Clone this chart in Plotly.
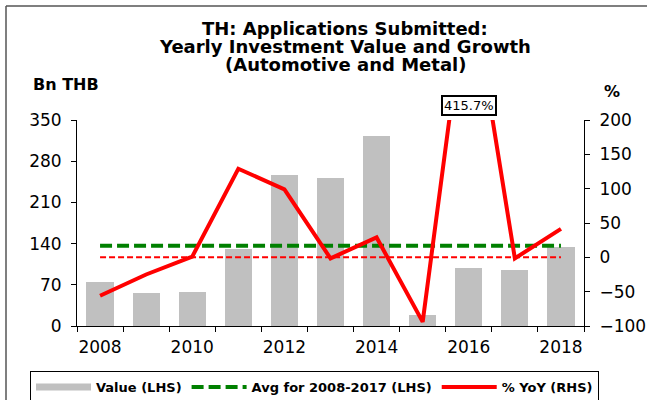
import plotly.graph_objects as go

# data
years = [2008, 2009, 2010, 2011, 2012, 2013, 2014, 2015, 2016, 2017, 2018]
value_bn_thb = [75, 56, 57, 130, 256, 252, 323, 19, 98, 96, 135]
yoy_pct = [-56, -25, 1, 129, 99, -1.5, 29, -94, 415.7, -1.5, 41.5]
avg_2008_2017 = 136.5
tick_years = [2008, 2010, 2012, 2014, 2016, 2018]

FONT = "DejaVu Sans, Arial, sans-serif"

fig = go.Figure()

fig.add_trace(go.Bar(
    x=years, y=value_bn_thb, width=0.59,
    marker=dict(color="#C0C0C0", line=dict(width=0)),
    name="Value (LHS)", showlegend=False,
))
# legend swatch for the bars (flat bar like the original)
fig.add_trace(go.Scatter(
    x=[None], y=[None], mode="lines",
    line=dict(color="#C0C0C0", width=7),
    name="Value (LHS)",
))
fig.add_trace(go.Scatter(
    x=years, y=[avg_2008_2017] * len(years), mode="lines",
    line=dict(color="#008000", width=4, dash="12px,5px"),
    name="Avg for 2008-2017 (LHS)",
))
fig.add_trace(go.Scatter(
    x=years, y=[0] * len(years), mode="lines", yaxis="y2",
    line=dict(color="#FF0000", width=2, dash="6px,3px"),
    showlegend=False, hoverinfo="skip",
))
fig.add_trace(go.Scatter(
    x=years, y=yoy_pct, mode="lines", yaxis="y2",
    line=dict(color="#FF0000", width=4),
    name="% YoY (RHS)",
))

# plot area runs from x=77 to 584 and y=120 to 326 (px)
def px(xp):
    return (xp - 77) / 507.0

def py(yp):
    return (326 - yp) / 206.0

title_lines = ["TH: Applications Submitted:",
               "Yearly Investment Value and Growth",
               "(Automotive and Metal)"]
annotations = []
for txt, yc in zip(title_lines, [28.5, 46.5, 64.5]):
    annotations.append(dict(
        text="<b>%s</b>" % txt, xref="paper", yref="paper",
        x=px(345), y=py(yc), xanchor="center", yanchor="middle",
        showarrow=False, font=dict(family=FONT, size=18, color="black"),
    ))
annotations.append(dict(
    text="<b>Bn THB</b>", xref="paper", yref="paper",
    x=px(66), y=py(84), xanchor="center", yanchor="middle",
    showarrow=False, font=dict(family=FONT, size=16, color="black"),
))
annotations.append(dict(
    text="<b>%</b>", xref="paper", yref="paper",
    x=px(612), y=py(91), xanchor="center", yanchor="middle",
    showarrow=False, font=dict(family=FONT, size=16, color="black"),
))
# label for the off-scale 2016 growth value
annotations.append(dict(
    text="%.1f%%" % yoy_pct[8], xref="x", yref="paper",
    x=years[8], y=py(105.5), xanchor="center", yanchor="middle",
    showarrow=False, font=dict(family=FONT, size=13, color="black"),
    bordercolor="black", borderwidth=2, borderpad=1, bgcolor="white",
))

tick_font = dict(family=FONT, size=17, color="black")

fig.update_layout(
    width=647, height=400,
    margin=dict(l=77, r=63, t=120, b=74, autoexpand=False),
    paper_bgcolor="white", plot_bgcolor="white",
    font=dict(family=FONT, color="black"),
    bargap=0,
    xaxis=dict(
        range=[years[0] - 0.5, years[-1] + 0.5],
        tickmode="array", tickvals=tick_years,
        ticktext=[str(y) for y in tick_years],
        ticks="", showgrid=False, zeroline=False,
        showline=True, linecolor="black", linewidth=1,
        tickfont=tick_font, ticklabelstandoff=6,
        minor=dict(tickmode="array",
                   tickvals=[y - 0.5 for y in years] + [years[-1] + 0.5],
                   ticks="outside", ticklen=5, tickcolor="black", tickwidth=1,
                   showgrid=False),
    ),
    yaxis=dict(
        range=[0, 350], tickmode="linear", tick0=0, dtick=70,
        ticks="outside", ticklen=5, tickcolor="black",
        showgrid=False, zeroline=False,
        showline=True, linecolor="black", linewidth=1,
        tickfont=tick_font, ticklabelstandoff=6,
    ),
    yaxis2=dict(
        range=[-100, 200], tickmode="linear", tick0=-100, dtick=50,
        overlaying="y", side="right",
        ticks="outside", ticklen=5, tickcolor="black",
        showgrid=False, zeroline=False,
        showline=True, linecolor="black", linewidth=1,
        tickfont=tick_font, ticklabelstandoff=6,
    ),
    legend=dict(
        orientation="h", xref="paper", x=px(30), xanchor="left",
        yref="paper", y=py(371), yanchor="top",
        bordercolor="black", borderwidth=1, bgcolor="white",
        font=dict(family=FONT, size=13, color="black", weight="bold"),
        traceorder="normal", tracegroupgap=0, itemwidth=55,
    ),
    annotations=annotations,
    shapes=[
        dict(type="line", xref="paper", yref="paper",
             x0=px(6), x1=px(6), y0=py(6), y1=py(400),
             line=dict(color="#555555", width=1.5)),
        dict(type="line", xref="paper", yref="paper",
             x0=px(6), x1=px(647), y0=py(6), y1=py(6),
             line=dict(color="#555555", width=1.5)),
    ],
    showlegend=True,
)

# the page's default body margin would push the 647x400 figure off screen
fig.write_html("out.html", config={"displayModeBar": False},
               post_script="document.body.style.margin='0';")
